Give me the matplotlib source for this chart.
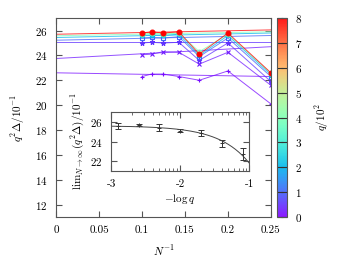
import numpy as np
import matplotlib
matplotlib.use("Agg")
import matplotlib.pyplot as plt

plt.rcParams["font.family"] = "serif"
plt.rcParams["font.serif"] = ["cmr10", "DejaVu Serif"]
plt.rcParams["mathtext.fontset"] = "cm"
plt.rcParams["axes.unicode_minus"] = False
plt.rcParams["axes.formatter.use_mathtext"] = True
plt.rcParams["font.size"] = 8

# system sizes N = 10 .. 4, plotted as N^-1
n_inv = [1/10, 1/9, 1/8, 1/7, 1/6, 1/5, 1/4]

# q / 10^2 for each series, marker per series
q_vals = [0.125, 0.25, 0.5, 1, 2, 4, 8]
markers = ["+", "x", "*", "s", "s", "o", "o"]
filled = [True, True, True, False, True, False, True]

# q^2 Delta / 10^-1 at each N^-1
gap = [
    [22.3, 22.5, 22.5, 22.3, 22.0, 22.75, 20.1],
    [24.05, 24.1, 24.3, 24.25, 23.3, 24.25, 21.6],
    [25.0, 25.05, 25.0, 25.05, 23.6, 25.0, 21.9],
    [25.4, 25.45, 25.4, 25.5, 23.9, 25.4, 22.3],
    [25.6, 25.65, 25.6, 25.7, 24.0, 25.6, 22.45],
    [25.7, 25.8, 25.7, 25.8, 24.3, 25.7, 22.55],
    [25.8, 25.9, 25.8, 25.9, 24.1, 25.8, 22.6],
]

# linear extrapolation lines: value at N^-1 = 0 and at N^-1 = 0.25
fit_x = [0.0, 0.25]
fit_y = [
    [22.6, 22.3],
    [23.75, 24.7],
    [25.05, 25.05],
    [25.22, 25.6],
    [25.44, 25.8],
    [25.58, 25.9],
    [25.7, 26.05],
]

# inset: extrapolated values vs -log q
inset_q = [800, 400, 200, 100, 50, 25, 12.5]
inset_y = [25.6, 25.65, 25.4, 25.1, 24.9, 23.8, 22.7]
inset_err = [0.3, 0.12, 0.35, 0.15, 0.3, 0.35, 0.6]

cmap = plt.get_cmap("rainbow")
norm = matplotlib.colors.Normalize(0, 8)

fig = plt.figure(figsize=(3.55, 2.66), dpi=100)
ax = fig.add_axes([0.158, 0.184, 0.605, 0.748])

for q, ys, fy, m, f in zip(q_vals, gap, fit_y, markers, filled):
    c = cmap(norm(q))
    ax.plot(fit_x, fy, "-", color=c, lw=0.7, alpha=0.75)
    ax.plot(n_inv, ys, "-", color=c, lw=0.7, alpha=0.75)
    ax.plot(n_inv, ys, ls="none", marker=m, ms=3.5, mew=0.8,
            color=c, mfc=c if f else "none")

ax.set_xlim(0, 0.25)
ax.set_ylim(11, 27)
ax.set_xticks([0, 0.05, 0.1, 0.15, 0.2, 0.25])
ax.set_xticklabels(["0", "0.05", "0.1", "0.15", "0.2", "0.25"])
ax.set_yticks(range(12, 27, 2))
ax.tick_params(direction="in", length=4, top=True, right=True, color="#555555", pad=6)
for s in ax.spines.values():
    s.set_color("#555555")
ax.set_xlabel(r"$N^{-1}$", labelpad=6)
ax.set_ylabel(r"$q^2\Delta/10^{-1}$", labelpad=6)

# colorbar
cax = fig.add_axes([0.780, 0.184, 0.028, 0.748])
sm = matplotlib.cm.ScalarMappable(norm=norm, cmap=cmap)
cb = fig.colorbar(sm, cax=cax, alpha=0.9)
cb.set_ticks(range(0, 9))
cb.outline.set_edgecolor("#555555")
cax.tick_params(direction="in", length=4, left=True, right=True, color="#333333", pad=6)
cb.set_label(r"$q/10^2$", labelpad=8)

# inset
ins = fig.add_axes([0.313, 0.357, 0.389, 0.222])
lx = -np.log10(inset_q)
ins.errorbar(lx, inset_y, yerr=inset_err, fmt="+", color="#333333", ms=3,
             mew=0.7, elinewidth=0.7, capsize=2, capthick=0.7)
coef = np.polyfit(1.0 / np.array(inset_q), inset_y, 1)
xs = np.linspace(-3, -1, 200)
ins.plot(xs, np.polyval(coef, 10.0 ** xs), "-", color="#444444", lw=0.7)
ins.set_xlim(-3, -1)
ins.set_ylim(21, 27)
ins.set_xticks([-3, -2, -1])
ins.set_xticklabels(["-3", "-2", "-1"])
ins.set_xticks([m + np.log10(k) for m in (-3, -2) for k in range(2, 10)], minor=True)
ins.set_yticks([22, 24, 26])
ins.tick_params(which="both", direction="in", top=True, right=True, color="#555555")
ins.tick_params(which="major", length=4, pad=6)
ins.tick_params(which="minor", length=2)
for s in ins.spines.values():
    s.set_color("#555555")
ins.set_xlabel(r"$-\log q$", labelpad=2)
ins.set_ylabel(r"$\mathrm{lim}_{N\to\infty}(q^2\Delta)/10^{-1}$", labelpad=3)

fig.savefig("out.png", dpi=100)
